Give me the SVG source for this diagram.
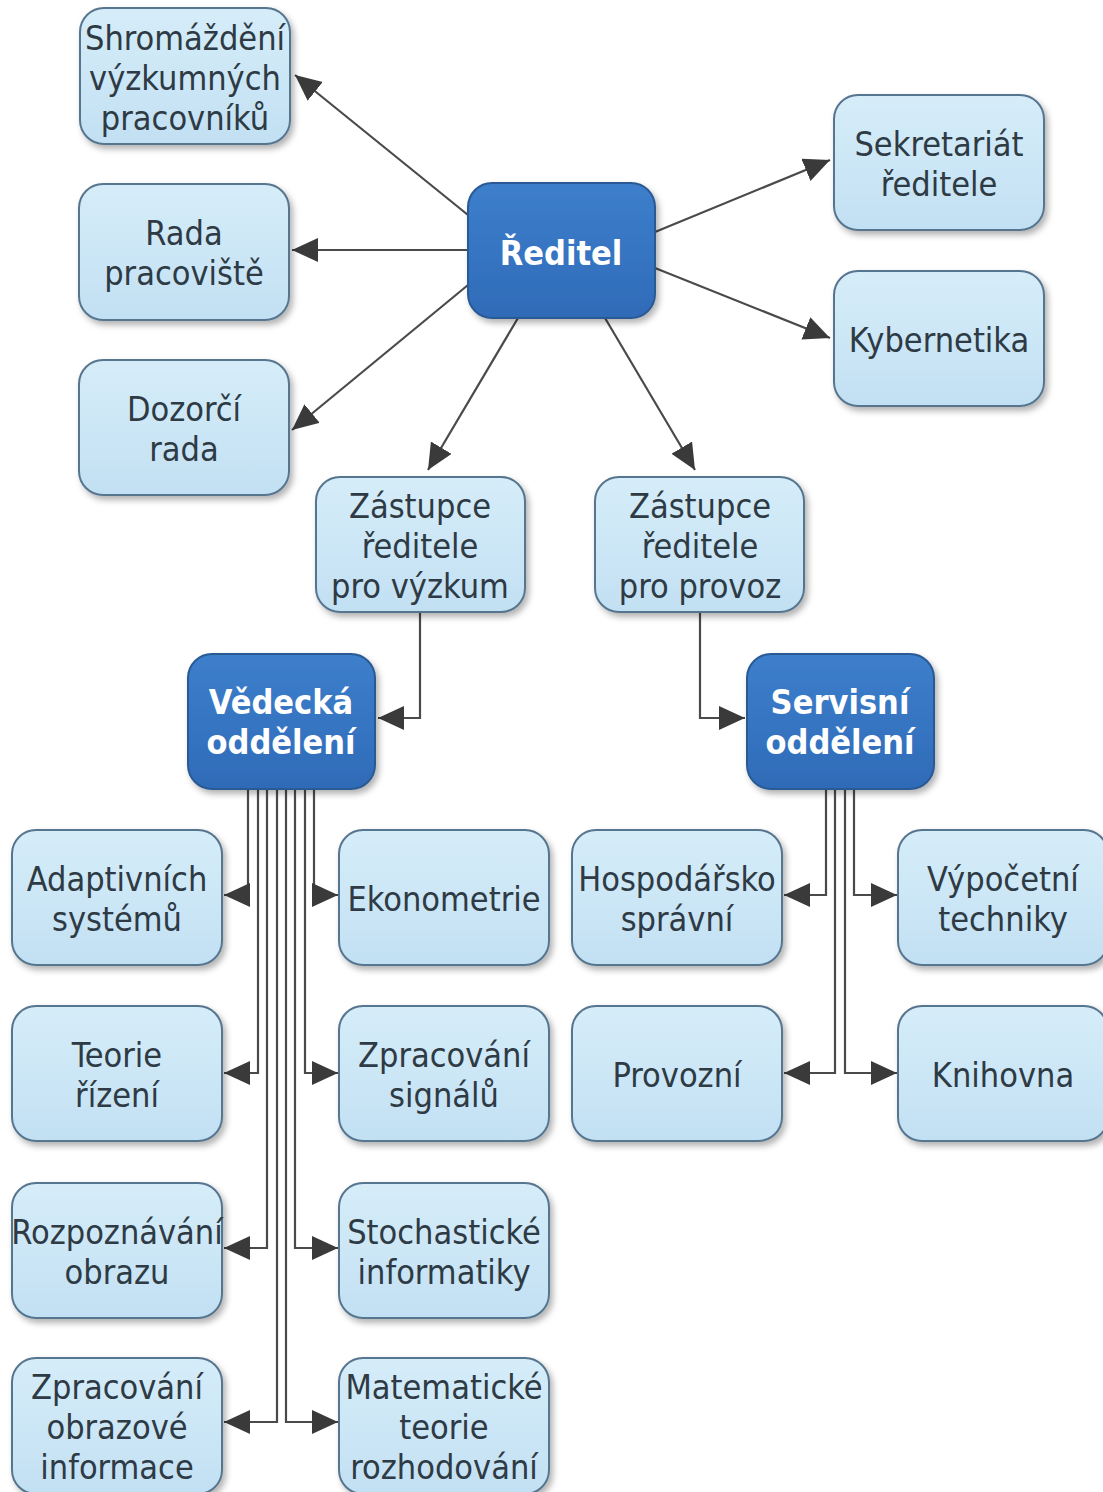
<svg xmlns="http://www.w3.org/2000/svg" width="1103" height="1492" viewBox="0 0 1103 1492">
<style>
.n rect{fill:url(#lg);stroke:#56758e;stroke-width:2}
.d rect{fill:url(#dg);stroke:#2a5a94;stroke-width:2}
.n text{font-family:"DejaVu Sans Condensed","DejaVu Sans",sans-serif;font-size:34px;fill:#2e3a44;text-anchor:middle}
.d text{font-family:"DejaVu Sans Condensed","DejaVu Sans",sans-serif;font-size:34px;font-weight:bold;fill:#ffffff;text-anchor:middle}
.c path{fill:none;stroke:#4a4a4a;stroke-width:2.2}
</style>
<defs>
<linearGradient id="lg" x1="0" y1="0" x2="0" y2="1"><stop offset="0" stop-color="#d6edf9"/><stop offset="1" stop-color="#c2e0f3"/></linearGradient>
<linearGradient id="dg" x1="0" y1="0" x2="0" y2="1"><stop offset="0" stop-color="#3d7fcc"/><stop offset="1" stop-color="#2f6bb8"/></linearGradient>
<filter id="sh" x="-10%" y="-10%" width="125%" height="130%"><feDropShadow dx="3" dy="4" stdDeviation="3" flood-color="#000" flood-opacity="0.3"/></filter>
<marker id="ah" markerUnits="userSpaceOnUse" markerWidth="28" markerHeight="26" refX="26" refY="12" orient="auto"><path d="M0,0 L26,12 L0,24 Z" fill="#3a3a3a"/></marker>
</defs>
<g class="c" id="connectors">
<path d="M468,215 L295,75" marker-end="url(#ah)"/>
<path d="M468,250 L292,250" marker-end="url(#ah)"/>
<path d="M468,285 L292,430" marker-end="url(#ah)"/>
<path d="M655,232 L830,160" marker-end="url(#ah)"/>
<path d="M655,268 L830,338" marker-end="url(#ah)"/>
<path d="M518,318 L428,470" marker-end="url(#ah)"/>
<path d="M605,318 L695,470" marker-end="url(#ah)"/>
<path d="M420,612 L420,718 L378,718" marker-end="url(#ah)"/>
<path d="M700,612 L700,718 L745,718" marker-end="url(#ah)"/>
<path d="M248,789 L248,895 L224,895" marker-end="url(#ah)"/>
<path d="M314,789 L314,895 L338,895" marker-end="url(#ah)"/>
<path d="M258,789 L258,1073 L224,1073" marker-end="url(#ah)"/>
<path d="M305,789 L305,1073 L338,1073" marker-end="url(#ah)"/>
<path d="M267,789 L267,1248 L224,1248" marker-end="url(#ah)"/>
<path d="M295,789 L295,1248 L338,1248" marker-end="url(#ah)"/>
<path d="M277,789 L277,1422 L224,1422" marker-end="url(#ah)"/>
<path d="M286,789 L286,1422 L338,1422" marker-end="url(#ah)"/>
<path d="M826,789 L826,895 L784,895" marker-end="url(#ah)"/>
<path d="M854,789 L854,895 L897,895" marker-end="url(#ah)"/>
<path d="M835,789 L835,1073 L784,1073" marker-end="url(#ah)"/>
<path d="M845,789 L845,1073 L897,1073" marker-end="url(#ah)"/>
</g>
<g id="shromazdeni" class="n"><rect x="80" y="8" width="210" height="136" rx="24" filter="url(#sh)"/><text x="185" y="50">Shromáždění</text><text x="185" y="90">výzkumných</text><text x="185" y="130">pracovníků</text></g>
<g id="rada" class="n"><rect x="79" y="184" width="210" height="136" rx="24" filter="url(#sh)"/><text x="184" y="245">Rada</text><text x="184" y="285">pracoviště</text></g>
<g id="dozorci" class="n"><rect x="79" y="360" width="210" height="135" rx="24" filter="url(#sh)"/><text x="184" y="421">Dozorčí</text><text x="184" y="461">rada</text></g>
<g id="reditel" class="d"><rect x="468" y="183" width="187" height="135" rx="24" filter="url(#sh)"/><text x="561" y="265">Ředitel</text></g>
<g id="sekretariat" class="n"><rect x="834" y="95" width="210" height="135" rx="24" filter="url(#sh)"/><text x="939" y="156">Sekretariát</text><text x="939" y="196">ředitele</text></g>
<g id="kybernetika" class="n"><rect x="834" y="271" width="210" height="135" rx="24" filter="url(#sh)"/><text x="939" y="352">Kybernetika</text></g>
<g id="zastupce-vyzkum" class="n"><rect x="316" y="477" width="209" height="135" rx="24" filter="url(#sh)"/><text x="420" y="518">Zástupce</text><text x="420" y="558">ředitele</text><text x="420" y="598">pro výzkum</text></g>
<g id="zastupce-provoz" class="n"><rect x="595" y="477" width="209" height="135" rx="24" filter="url(#sh)"/><text x="700" y="518">Zástupce</text><text x="700" y="558">ředitele</text><text x="700" y="598">pro provoz</text></g>
<g id="vedecka" class="d"><rect x="188" y="654" width="187" height="135" rx="24" filter="url(#sh)"/><text x="281" y="714">Vědecká</text><text x="281" y="754">oddělení</text></g>
<g id="servisni" class="d"><rect x="747" y="654" width="187" height="135" rx="24" filter="url(#sh)"/><text x="840" y="714">Servisní</text><text x="840" y="754">oddělení</text></g>
<g id="adaptivnich" class="n"><rect x="12" y="830" width="210" height="135" rx="24" filter="url(#sh)"/><text x="117" y="891">Adaptivních</text><text x="117" y="931">systémů</text></g>
<g id="ekonometrie" class="n"><rect x="339" y="830" width="210" height="135" rx="24" filter="url(#sh)"/><text x="444" y="911">Ekonometrie</text></g>
<g id="hospodarsko" class="n"><rect x="572" y="830" width="210" height="135" rx="24" filter="url(#sh)"/><text x="677" y="891">Hospodářsko</text><text x="677" y="931">správní</text></g>
<g id="vypocetni" class="n"><rect x="898" y="830" width="210" height="135" rx="24" filter="url(#sh)"/><text x="1003" y="891">Výpočetní</text><text x="1003" y="931">techniky</text></g>
<g id="teorie" class="n"><rect x="12" y="1006" width="210" height="135" rx="24" filter="url(#sh)"/><text x="117" y="1067">Teorie</text><text x="117" y="1107">řízení</text></g>
<g id="signalu" class="n"><rect x="339" y="1006" width="210" height="135" rx="24" filter="url(#sh)"/><text x="444" y="1067">Zpracování</text><text x="444" y="1107">signálů</text></g>
<g id="provozni" class="n"><rect x="572" y="1006" width="210" height="135" rx="24" filter="url(#sh)"/><text x="677" y="1087">Provozní</text></g>
<g id="knihovna" class="n"><rect x="898" y="1006" width="210" height="135" rx="24" filter="url(#sh)"/><text x="1003" y="1087">Knihovna</text></g>
<g id="rozpoznavani" class="n"><rect x="12" y="1183" width="210" height="135" rx="24" filter="url(#sh)"/><text x="117" y="1244">Rozpoznávání</text><text x="117" y="1284">obrazu</text></g>
<g id="stochasticke" class="n"><rect x="339" y="1183" width="210" height="135" rx="24" filter="url(#sh)"/><text x="444" y="1244">Stochastické</text><text x="444" y="1284">informatiky</text></g>
<g id="obrazove" class="n"><rect x="12" y="1358" width="210" height="136" rx="24" filter="url(#sh)"/><text x="117" y="1399">Zpracování</text><text x="117" y="1439">obrazové</text><text x="117" y="1479">informace</text></g>
<g id="matematicke" class="n"><rect x="339" y="1358" width="210" height="136" rx="24" filter="url(#sh)"/><text x="444" y="1399">Matematické</text><text x="444" y="1439">teorie</text><text x="444" y="1479">rozhodování</text></g>
</svg>
